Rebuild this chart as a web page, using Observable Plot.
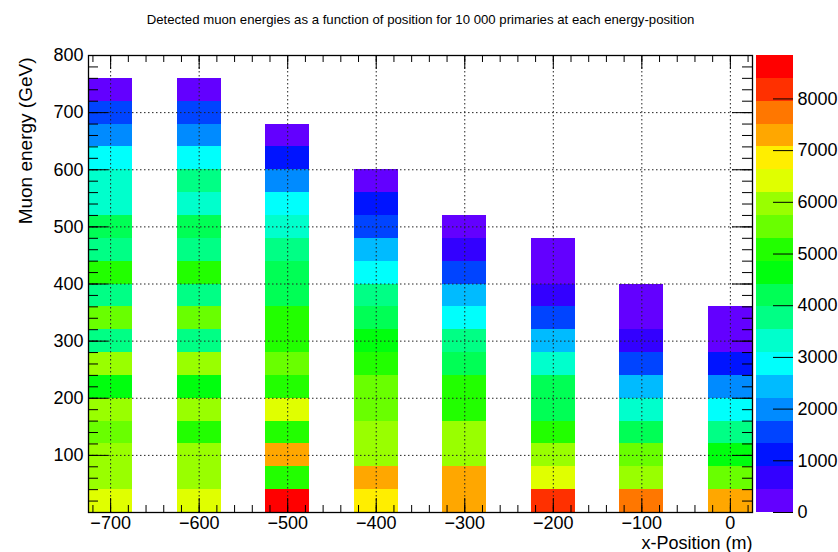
<!DOCTYPE html>
<html>
<head>
<meta charset="utf-8">
<script src="https://cdn.jsdelivr.net/npm/d3@7"></script>
<script src="https://cdn.jsdelivr.net/npm/@observablehq/plot@0.6"></script>
<style>
  html, body { margin: 0; padding: 0; background: #fff; }
  #chart { position: relative; width: 838px; height: 552px; }
  #chart svg { position: absolute; top: 0; }
  #chart svg.colorbar { left: 752px; }
  #chart svg.main { left: 0; }
</style>
</head>
<body>
<div id="chart"></div>
<script>
// Detector x-positions (m); each column is one 50 m wide bin
const positions = [-700, -600, -500, -400, -300, -200, -100, 0];

// Lower edges of the 40 GeV muon-energy bins
const energyLow = [0, 40, 80, 120, 160, 200, 240, 280, 320, 360, 400, 440, 480, 520, 560, 600, 640, 680, 720];

// Detected muon counts per energy bin, lowest bin first
const countsAtMinus700 = [6400, 5950, 6010, 5480, 5930, 4700, 5990, 3720, 5560, 3800, 5120, 3740, 4170, 3290, 3350, 2880, 1960, 1530, 240];
const countsAtMinus600 = [6380, 5980, 5940, 5150, 6020, 4660, 5960, 3780, 5510, 3700, 5060, 3810, 4230, 3330, 3610, 2850, 2010, 1570, 210];
const countsAtMinus500 = [8840, 5100, 7310, 5050, 6420, 5110, 5540, 5020, 5090, 4180, 4240, 3740, 3300, 2900, 1980, 1090, 250];
const countsAtMinus400 = [6860, 7280, 5990, 5940, 5530, 5500, 5070, 4620, 4210, 3770, 2860, 2440, 1540, 1120, 220];
const countsAtMinus300 = [7300, 7270, 5960, 5990, 5090, 5060, 4190, 3750, 2880, 2420, 1560, 670, 200];
const countsAtMinus200 = [8190, 6400, 5980, 5080, 4200, 4160, 3320, 2430, 1550, 660, 300, 180];
const countsAtMinus100 = [7730, 5970, 5520, 4200, 3310, 2440, 1540, 650, 320, 170];
const countsAtZero     = [7290, 5530, 4650, 3770, 2870, 1990, 1100, 310, 160];

// Axis tick labels
const xTickValues = [-700, -600, -500, -400, -300, -200, -100, 0];
const yTickValues = [100, 200, 300, 400, 500, 600, 700, 800];
const zTickValues = [0, 1000, 2000, 3000, 4000, 5000, 6000, 7000, 8000];

const title = "Detected muon energies as a function of position for 10 000 primaries at each energy-position";
const xTitle = "x-Position (m)";
const yTitle = "Muon energy (GeV)";

// 20-step violet-to-red contour palette
const palette = ["#6300ff", "#3300ff", "#0014ff", "#0044ff", "#008bff", "#00bbff", "#00fffc", "#00ffcc", "#00ff85", "#00ff55",
                 "#00ff0e", "#22ff00", "#69ff00", "#99ff00", "#e0ff00", "#ffee00", "#ffa700", "#ff7700", "#ff3000", "#ff0000"];

const countsByPosition = [countsAtMinus700, countsAtMinus600, countsAtMinus500, countsAtMinus400,
                          countsAtMinus300, countsAtMinus200, countsAtMinus100, countsAtZero];
const binHalfWidth = 25;   // m
const binHeight = 40;      // GeV

const cells = positions.flatMap((x, j) =>
  countsByPosition[j].map((count, i) => ({x, e: energyLow[i], count})));

const zMax = d3.max(cells, d => d.count);
const nLevels = palette.length;
const thresholds = d3.range(1, nLevels).map(k => k * zMax / nLevels);

const W = 838, H = 552;
const mTop = 55, mBottom = 40, mLeft = 88, mRight = 86;
const frameW = W - mLeft - mRight, frameH = H - mTop - mBottom;
const font = '"Liberation Sans", Arial, Helvetica, sans-serif';
const minus = d => d < 0 ? "\u2212" + Math.abs(d) : String(d);

// Tick positions (major every 100, minor every 20)
const xMinor = d3.range(-720, 25, 20);
const yMinor = d3.range(0, 801, 20);
const yMajor = d3.range(0, 801, 100);

const gridStyle = {stroke: "#222", strokeWidth: 1, strokeDasharray: "1.5,2.5"};

const main = Plot.plot({
  width: W, height: H,
  marginTop: mTop, marginBottom: mBottom, marginLeft: mLeft, marginRight: mRight,
  x: {domain: [-725, 25]},
  y: {domain: [0, 800]},
  color: {type: "threshold", domain: thresholds, range: palette},
  style: {fontFamily: font, background: "transparent", color: "#000"},
  marks: [
    Plot.rect(cells, {
      x1: d => d.x - binHalfWidth, x2: d => d.x + binHalfWidth,
      y1: "e", y2: d => d.e + binHeight,
      fill: "count", shapeRendering: "crispEdges"
    }),
    // dotted grid
    Plot.ruleX(xTickValues, gridStyle),
    Plot.ruleY(yTickValues.filter(v => v < 800), gridStyle),
    // inward ticks on all four sides
    Plot.ruleX(xMinor, {insetTop: frameH - 7, stroke: "#000"}),
    Plot.ruleX(xTickValues, {insetTop: frameH - 14, stroke: "#000"}),
    Plot.ruleX(xMinor, {insetBottom: frameH - 7, stroke: "#000"}),
    Plot.ruleX(xTickValues, {insetBottom: frameH - 14, stroke: "#000"}),
    Plot.ruleY(yMinor, {insetRight: frameW - 10, stroke: "#000"}),
    Plot.ruleY(yMajor, {insetRight: frameW - 20, stroke: "#000"}),
    Plot.ruleY(yMinor, {insetLeft: frameW - 10, stroke: "#000"}),
    Plot.ruleY(yMajor, {insetLeft: frameW - 20, stroke: "#000"}),
    Plot.frame({stroke: "#000", strokeWidth: 1.3}),
    Plot.axisX({ticks: xTickValues, tickSize: 0, tickPadding: 4, fontSize: 18, tickFormat: minus, label: null}),
    Plot.axisY({ticks: yTickValues, tickSize: 0, tickPadding: 5, fontSize: 18, tickFormat: minus, label: null}),
    Plot.text([xTitle], {frameAnchor: "bottom-right", textAnchor: "end", dy: 36.5, fontSize: 18}),
    Plot.text([yTitle], {frameAnchor: "top-left", textAnchor: "end", rotate: -90, dx: -70, dy: 2, fontSize: 19}),
    Plot.text([title], {frameAnchor: "top", dy: -41, fontSize: 13.2})
  ]
});
main.classList.add("main");

// Colour bar: one band per contour level
const levels = palette.map((color, k) => ({lo: k * zMax / nLevels, hi: (k + 1) * zMax / nLevels, color}));
const barW = 37;
const colorbar = Plot.plot({
  width: 86, height: H,
  marginTop: mTop, marginBottom: mBottom, marginLeft: 4, marginRight: 86 - 4 - barW,
  x: {domain: [0, 1], axis: null},
  y: {domain: [0, zMax]},
  style: {fontFamily: font, background: "transparent", color: "#000"},
  marks: [
    Plot.rect(levels, {x1: 0, x2: 1, y1: "lo", y2: "hi", fill: "color", shapeRendering: "crispEdges"}),
    Plot.ruleY(zTickValues, {insetLeft: barW - 20, stroke: "#000"}),
    Plot.axisY({anchor: "right", ticks: zTickValues, tickSize: 0, tickPadding: 4, fontSize: 18, tickFormat: d => String(d), label: null})
  ]
});
colorbar.classList.add("colorbar");

const chart = document.getElementById("chart");
chart.append(main, colorbar);
</script>
</body>
</html>
